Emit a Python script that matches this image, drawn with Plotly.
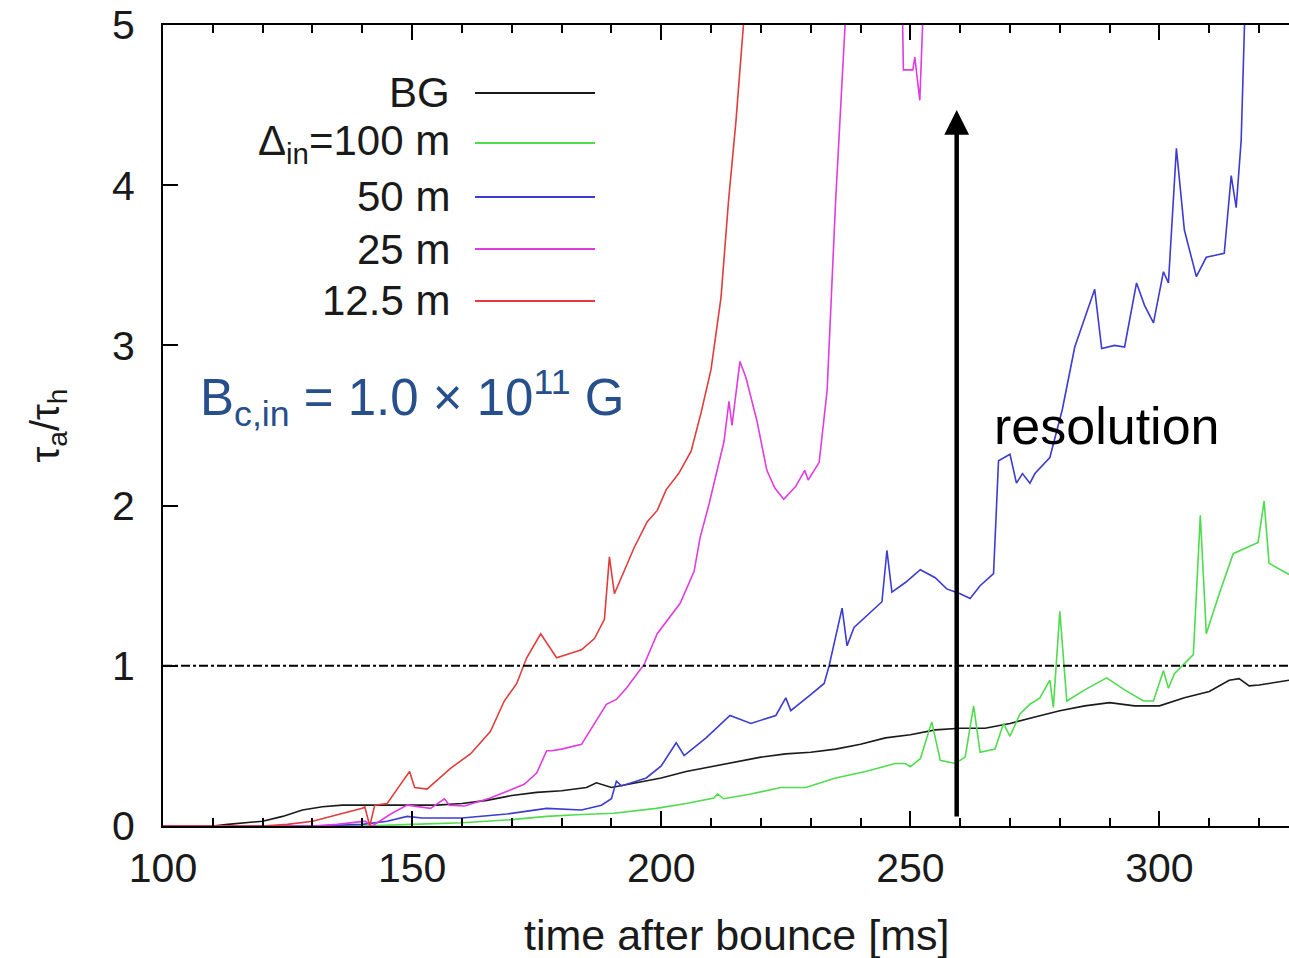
import plotly.graph_objects as go

# ---------------- data ----------------
bg_t = [100, 105, 110, 113, 116, 120, 124, 128, 132, 136, 140, 145, 150, 155, 160, 165, 170, 175, 180, 185,
        187, 190, 195, 200, 205, 210, 215, 220, 225, 230, 235, 240, 245, 250, 255, 260, 265, 270, 275, 280,
        285, 290, 295, 300, 305, 310, 314, 316, 318, 320, 326]
bg_v = [0, 0, 0, 0.01, 0.02, 0.03, 0.06, 0.10, 0.12, 0.13, 0.13, 0.13, 0.13, 0.13, 0.14, 0.16, 0.19, 0.21, 0.22, 0.24,
        0.27, 0.24, 0.27, 0.30, 0.34, 0.37, 0.40, 0.43, 0.45, 0.46, 0.48, 0.51, 0.55, 0.57, 0.60, 0.61, 0.61, 0.64, 0.68, 0.72,
        0.75, 0.77, 0.75, 0.75, 0.80, 0.84, 0.91, 0.92, 0.875, 0.88, 0.91]

g_t = [100, 140, 150, 160, 170, 177, 183, 190.5, 199, 205, 210.6, 211.3, 212.5, 218, 224, 229, 235, 241, 247, 249,
       250, 252, 254.3, 256, 259, 261, 262.7, 264, 267, 268.7, 270, 272, 274, 276, 278, 278.7, 280, 281.4, 285, 289.4,
       293, 296.8, 298.8, 300.8, 301.8, 303, 306.8, 308.2, 309.4, 312, 314.8, 319.8, 321, 322, 326]
g_v = [0, 0, 0.01, 0.02, 0.04, 0.06, 0.07, 0.08, 0.11, 0.14, 0.175, 0.2, 0.17, 0.2, 0.24, 0.24, 0.3, 0.34, 0.39, 0.39,
       0.37, 0.42, 0.65, 0.41, 0.39, 0.43, 0.75, 0.46, 0.48, 0.64, 0.56, 0.70, 0.76, 0.80, 0.91, 0.74, 1.34, 0.78, 0.85, 0.925,
       0.85, 0.78, 0.78, 0.97, 0.86, 0.95, 1.07, 1.94, 1.2, 1.45, 1.7, 1.77, 2.03, 1.64, 1.57]

b_t = [100, 130, 140, 145, 149, 152, 160, 169, 177, 184, 188, 190, 191, 192, 197, 200, 203, 204.6, 209, 213.8,
       218, 223, 225, 226, 230, 232.7, 233.7, 236.3, 237.3, 238.7, 244.3, 245.3, 246.3, 249, 252, 255, 257.3, 260, 262, 264,
       266.7, 267.7, 270, 271.3, 272.5, 274, 275, 278, 280.5, 283, 287, 288.4, 291, 293, 295.4, 297, 298.8, 300.8, 301.8, 303.4,
       305, 306, 307.4, 309.4, 313, 314.4, 315.4, 316.4, 317.2, 318, 320]
b_v = [0, 0, 0.01, 0.03, 0.06, 0.05, 0.05, 0.075, 0.11, 0.10, 0.13, 0.17, 0.28, 0.25, 0.30, 0.375, 0.52, 0.44, 0.55, 0.69,
       0.64, 0.69, 0.8, 0.72, 0.82, 0.89, 1.0, 1.36, 1.125, 1.24, 1.4, 1.72, 1.46, 1.52, 1.6, 1.55, 1.48, 1.45, 1.42, 1.5,
       1.575, 2.28, 2.32, 2.14, 2.2, 2.14, 2.2, 2.3, 2.6, 2.99, 3.35, 2.98, 3.0, 2.99, 3.39, 3.25, 3.14, 3.46, 3.39, 4.23,
       3.72, 3.6, 3.43, 3.55, 3.575, 4.06, 3.86, 4.28, 5.0, 6.0, 7.0]

m_t = [100, 120, 130, 135, 140.5, 142, 145.7, 149, 153.7, 156.5, 157.5, 160.5, 165.7, 172.5, 175, 177, 178, 180, 184, 189,
       191, 193, 196.6, 199.2, 203.8, 206.6, 207.8, 209.6, 212.6, 213.6, 214.2, 215.8, 217, 219.2, 221.2, 222.8, 224.6, 227, 228.8, 229.5,
       231.7, 233.3, 235, 236.9, 240, 245, 248.3, 248.6, 250.5, 250.9, 251.9, 252.7, 255]
m_v = [0, 0, 0, 0.01, 0.03, 0.0, 0.075, 0.13, 0.11, 0.17, 0.13, 0.125, 0.175, 0.26, 0.33, 0.47, 0.47, 0.48, 0.51, 0.76,
       0.79, 0.86, 1.01, 1.2, 1.39, 1.59, 1.8, 2.01, 2.4, 2.65, 2.5, 2.9, 2.8, 2.53, 2.22, 2.11, 2.04, 2.12, 2.22, 2.16,
       2.27, 2.72, 3.9, 5.0, 6.5, 7.0, 5.3, 4.72, 4.72, 4.8, 4.53, 5.2, 7.0]

r_t = [100, 110, 120, 125, 130, 135, 140, 140.5, 141.5, 142.5, 145, 147, 149.5, 150.5, 153, 157.7, 161.7, 165.7, 168.5, 171,
       173, 175.8, 179, 182, 184, 186.6, 188.6, 189.6, 190.6, 194.6, 197.2, 199.2, 201, 203.5, 206, 208, 210, 212, 213.5, 215,
       216.5, 218, 222]
r_v = [0, 0, 0, 0.01, 0.03, 0.07, 0.11, 0.12, 0.0, 0.13, 0.14, 0.23, 0.34, 0.24, 0.23, 0.36, 0.45, 0.59, 0.78, 0.89,
       1.05, 1.2, 1.05, 1.08, 1.1, 1.17, 1.29, 1.68, 1.45, 1.74, 1.9, 1.97, 2.1, 2.2, 2.34, 2.58, 2.85, 3.3, 3.9, 4.4,
       5.0, 6.0, 8.0]

series_names = ["BG", "Δ<sub>in</sub>=100 m", "50 m", "25 m", "12.5 m"]
series_colors = ["#1a1a1a", "#4fdc4f", "#3c3cd2", "#e03ce0", "#e23c3c"]
series_t = [bg_t, g_t, b_t, m_t, r_t]
series_v = [bg_v, g_v, b_v, m_v, r_v]

x_ticks = [100, 150, 200, 250, 300]
y_ticks = [0, 1, 2, 3, 4, 5]
x_range = [100, 326]
y_range = [0, 5]

FONT = "Liberation Sans, Arial, sans-serif"

fig = go.Figure()
for name, col, t, v in zip(series_names, series_colors, series_t, series_v):
    fig.add_trace(go.Scatter(x=t, y=v, mode="lines", name=name,
                             line=dict(color=col, width=1.6), showlegend=False))

# threshold line tau_a/tau_h = 1
fig.add_shape(type="line", xref="paper", x0=0, x1=1, yref="y", y0=1, y1=1,
              line=dict(color="black", width=2, dash="dashdot"))

# manual legend (text right-aligned, sample line to the right)
L, W = 163, 1126
T, H = 25, 801
legend_rows_py = [93, 143, 197, 249, 301]
for name, col, py in zip(series_names, series_colors, legend_rows_py):
    yp = (826 - py) / H
    fig.add_annotation(xref="paper", yref="paper", x=(452 - L) / W, y=yp, text=name,
                       showarrow=False, xanchor="right", yanchor="middle",
                       font=dict(family=FONT, size=42, color="#1a1a1a"))
    fig.add_shape(type="line", xref="paper", yref="paper", x0=(475 - L) / W, x1=(595 - L) / W,
                  y0=yp, y1=yp, line=dict(color=col, width=2))

# field strength label
fig.add_annotation(xref="paper", yref="paper", x=(198 - L) / W, y=(826 - 398) / H,
                   text="B<sub>c,in</sub> = 1.0 × 10<sup>11</sup> G", showarrow=False,
                   xanchor="left", yanchor="middle",
                   font=dict(family=FONT, size=51, color="#264f8c"))

# resolution arrow + label
fig.add_annotation(x=259.3, y=4.47, ax=259.3, ay=0.05, xref="x", yref="y", axref="x", ayref="y",
                   text="", showarrow=True, arrowhead=2, arrowsize=1.1, arrowwidth=4.5, arrowcolor="black")
fig.add_annotation(xref="paper", yref="paper", x=(992 - L) / W, y=(826 - 426) / H, text="resolution",
                   showarrow=False, xanchor="left", yanchor="middle",
                   font=dict(family=FONT, size=52, color="black"))

# x-axis title (placed as in the reference, slightly right of the plot centre)
fig.add_annotation(xref="paper", yref="paper", x=(736 - L) / W, y=-(935 - 826) / H,
                   text="time after bounce [ms]", showarrow=False, xanchor="center", yanchor="middle",
                   font=dict(family=FONT, size=43, color="#1a1a1a"))

fig.update_layout(
    width=1289, height=958,
    margin=dict(l=L, r=0, t=T, b=958 - 826),
    paper_bgcolor="white", plot_bgcolor="white",
    font=dict(family=FONT, color="#1a1a1a"),
    xaxis=dict(range=x_range, tickvals=x_ticks, ticks="inside", ticklen=15, tickwidth=2,
               tickcolor="black", showline=True, linecolor="black", linewidth=2, mirror="ticks",
               showgrid=False, zeroline=False, tickfont=dict(size=41, family=FONT, color="#1a1a1a"),
               ticklabelstandoff=5,
               minor=dict(dtick=10, tick0=100, ticks="inside", ticklen=8, tickwidth=2, tickcolor="black", showgrid=False)),
    yaxis=dict(range=y_range, tickvals=y_ticks, ticks="inside", ticklen=15, tickwidth=2,
               tickcolor="black", showline=True, linecolor="black", linewidth=2, mirror=False,
               showgrid=False, zeroline=False, tickfont=dict(size=41, family=FONT, color="#1a1a1a"),
               ticklabelstandoff=18,
               title=dict(text="τ<sub>a</sub>/τ<sub>h</sub>", font=dict(size=40, family=FONT, color="#1a1a1a"), standoff=40)),
)

fig.write_html("out.html")
